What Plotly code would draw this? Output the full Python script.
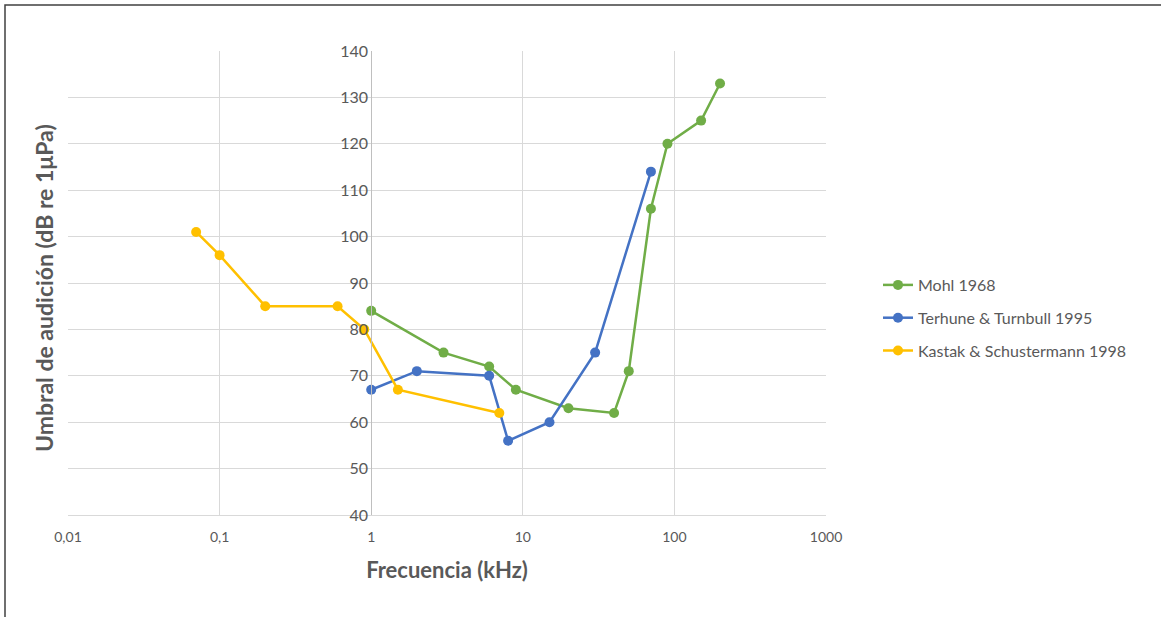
import math
import plotly.graph_objects as go

# Data
mohl_x = [1, 3, 6, 9, 20, 40, 50, 70, 90, 150, 200]
mohl_y = [84, 75, 72, 67, 63, 62, 71, 106, 120, 125, 133]
terhune_x = [1, 2, 6, 8, 15, 30, 70]
terhune_y = [67, 71, 70, 56, 60, 75, 114]
kastak_x = [0.07, 0.1, 0.2, 0.6, 0.9, 1.5, 7]
kastak_y = [101, 96, 85, 85, 80, 67, 62]
x_ticks = [0.01, 0.1, 1, 10, 100, 1000]
x_tick_labels = ["0,01", "0,1", "1", "10", "100", "1000"]
y_ticks = [40, 50, 60, 70, 80, 90, 100, 110, 120, 130, 140]

series = [
    ("Mohl 1968", mohl_x, mohl_y, "#70AD47"),
    ("Terhune & Turnbull 1995", terhune_x, terhune_y, "#4472C4"),
    ("Kastak & Schustermann 1998", kastak_x, kastak_y, "#FFC000"),
]

FONT = "Lato, 'Open Sans', sans-serif"
GRAY = "#595959"

fig = go.Figure()
for i, (name, xs, ys, col) in enumerate(series):
    fig.add_trace(go.Scatter(
        x=xs, y=ys, name=name, mode="lines+markers",
        line=dict(color=col, width=2.5),
        marker=dict(color=col, size=10),
        legendgroup=f"g{i}",
    ))

W, H = 1161, 617
ml, mr, mt, mb = 68, 335, 51, 102
pw = W - ml - mr
ph = H - mt - mb
frac_one = (math.log10(1) - math.log10(0.01)) / (math.log10(1000) - math.log10(0.01))

fig.update_layout(
    width=W, height=H,
    margin=dict(l=ml, r=mr, t=mt, b=mb, autoexpand=False),
    paper_bgcolor="white", plot_bgcolor="white",
    font=dict(family=FONT, color=GRAY, size=14),
    showlegend=True,
    legend=dict(
        x=(878 - ml) / pw, xanchor="left",
        y=(H - mb - 318) / ph, yanchor="middle",
        font=dict(family=FONT, size=16, color=GRAY),
        tracegroupgap=9, bgcolor="rgba(0,0,0,0)",
    ),
    xaxis=dict(
        type="log", range=[-2, 3],
        tickvals=x_ticks, ticktext=x_tick_labels,
        showgrid=True, gridcolor="#d9d9d9", gridwidth=1,
        showline=True, linecolor="#d9d9d9", linewidth=1,
        ticks="", zeroline=False,
        tickfont=dict(family=FONT, size=14, color=GRAY),
        ticklabelstandoff=9,
        title=dict(text="<b>Frecuencia (kHz)</b>", font=dict(family=FONT, size=22, color=GRAY), standoff=18),
    ),
    yaxis=dict(
        range=[40, 140], tickvals=y_ticks,
        anchor="free", position=frac_one,
        showgrid=True, gridcolor="#d9d9d9", gridwidth=1,
        showline=True, linecolor="#bfbfbf", linewidth=1,
        ticks="", zeroline=False,
        tickfont=dict(family=FONT, size=16, color=GRAY),
        ticklabelstandoff=0,
        title=dict(text=""),
    ),
    annotations=[dict(
        text="<b>Umbral de audición (dB re 1μPa)</b>",
        xref="paper", yref="paper",
        x=(44 - ml) / pw, y=(H - mb - 288) / ph, textangle=-90,
        showarrow=False, xanchor="center", yanchor="middle",
        font=dict(family=FONT, size=23, color=GRAY),
    )],
    shapes=[dict(
        type="rect", xref="paper", yref="paper",
        x0=(5 - ml) / pw, x1=(1170 - ml) / pw,
        y0=(H - mb - 625) / ph, y1=(H - mb - 5) / ph,
        line=dict(color="#404040", width=1.5), layer="below",
    )],
)

fig.write_html("out.html", config={"displayModeBar": False},
               post_script="document.body.style.margin='0';")
